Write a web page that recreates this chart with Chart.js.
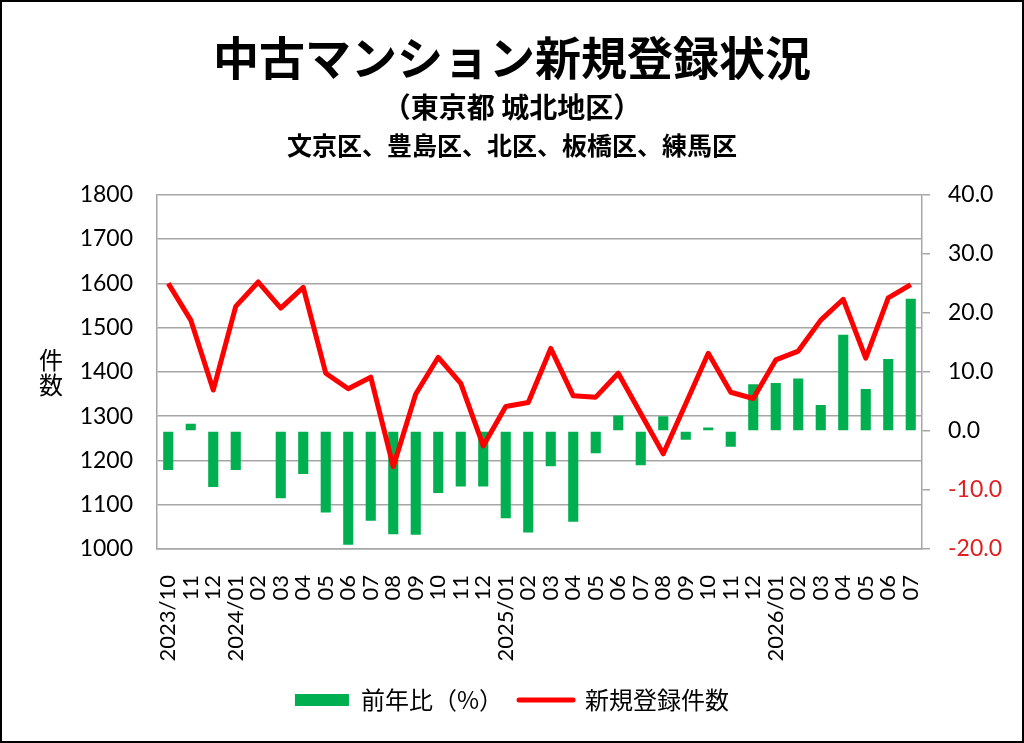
<!DOCTYPE html>
<html>
<head>
<meta charset="utf-8">
<script src="https://cdn.jsdelivr.net/npm/chart.js@4"></script>
<style>
  body { margin: 0; background: #fff; }
  #wrap { position: relative; width: 1024px; height: 743px; }
  #frame { position: absolute; left: 0; top: 0; width: 1024px; height: 743px; box-sizing: border-box; border: 2px solid #000; pointer-events: none; }
</style>
</head>
<body>
<div id="wrap">
  <canvas id="grafico"></canvas>
  <div id="frame"></div>
</div>
<script>
const labels = [
  '2023/10', '11', '12',
  '2024/01', '02', '03', '04', '05', '06', '07', '08', '09', '10', '11', '12',
  '2025/01', '02', '03', '04', '05', '06', '07', '08', '09', '10', '11', '12',
  '2026/01', '02', '03', '04', '05', '06', '07'
];

// 新規登録件数 (左軸)
const kensu = [
  1600, 1517, 1359,
  1548, 1603, 1544, 1591, 1397, 1362, 1388, 1186, 1350, 1433, 1374, 1233,
  1322, 1331, 1453, 1346, 1343, 1397, 1306, 1215, 1328, 1442, 1354, 1340,
  1427, 1447, 1517, 1564, 1431, 1567, 1597
];

// 前年比 % (右軸)
const zennenhi = [
  -6.6, 1.2, -9.5,
  -6.6, 0, -11.4, -7.3, -13.8, -19.3, -15.2, -17.5, -17.6, -10.5, -9.4, -9.4,
  -14.8, -17.2, -6.0, -15.4, -3.8, 2.6, -5.8, 2.5, -1.5, 0.6, -2.7, 7.9,
  8.1, 8.9, 4.4, 16.3, 7.1, 12.2, 22.4
];

const subtitulo2 = '文京区、豊島区、北区、板橋区、練馬区';

const jpFont = "'Noto Sans CJK JP', sans-serif";
const numFont = "Lato, 'Noto Sans CJK JP', sans-serif";
const gris = '#a6a6a6';

// 縦書きの「件数」と3行目の見出し
const textosExtra = {
  id: 'textosExtra',
  afterDraw(chart) {
    const { ctx, chartArea } = chart;
    const cy = (chartArea.top + chartArea.bottom) / 2;
    ctx.save();
    ctx.fillStyle = '#000';
    ctx.textAlign = 'center';
    ctx.textBaseline = 'middle';
    ctx.font = '24px ' + jpFont;
    ctx.fillText('件', 51, cy - 12);
    ctx.fillText('数', 51, cy + 13);
    ctx.font = 'bold 25px ' + jpFont;
    ctx.fillText(subtitulo2, chart.width / 2, 145);
    ctx.restore();
  }
};

const chart = new Chart(document.getElementById('grafico'), {
  data: {
    labels: labels,
    datasets: [
      {
        type: 'bar',
        label: '前年比（%）',
        data: zennenhi,
        yAxisID: 'y1',
        backgroundColor: '#00b050',
        borderWidth: 0,
        barPercentage: 0.9,
        categoryPercentage: 0.5,
        order: 1
      },
      {
        type: 'line',
        label: '新規登録件数',
        data: kensu,
        yAxisID: 'y',
        borderColor: '#ff0000',
        backgroundColor: '#ff0000',
        borderWidth: 5,
        pointRadius: 0,
        tension: 0,
        borderJoinStyle: 'round',
        fill: false,
        order: 0
      }
    ]
  },
  options: {
    responsive: true,
    maintainAspectRatio: false,
    animation: false,
    layout: { padding: { left: 0, right: 0, top: 0, bottom: 21 } },
    plugins: {
      title: {
        display: true,
        text: '中古マンション新規登録状況',
        color: '#000',
        font: { family: jpFont, size: 46, weight: 'bold', lineHeight: 1.2 },
        padding: { top: 30, bottom: 0 }
      },
      subtitle: {
        display: true,
        text: '（東京都 城北地区）',
        color: '#000',
        font: { family: jpFont, size: 28, weight: 'bold', lineHeight: 1.2 },
        padding: { top: 5, bottom: 71 }
      },
      legend: {
        position: 'bottom',
        labels: {
          color: '#000',
          font: { family: jpFont, size: 24 },
          usePointStyle: true,
          pointStyleWidth: 54,
          boxHeight: 12,
          padding: 16,
          generateLabels(chart) {
            const items = Chart.defaults.plugins.legend.labels.generateLabels(chart);
            items.forEach(it => {
              if (it.datasetIndex === 0) {
                it.pointStyle = 'rect';
                it.lineWidth = 0;
                it.fillStyle = '#00b050';
              } else {
                it.pointStyle = 'line';
                it.lineWidth = 5;
                it.strokeStyle = '#ff0000';
                it.lineCap = 'round';
              }
            });
            return items.sort((a, b) => a.datasetIndex - b.datasetIndex);
          }
        }
      },
      tooltip: { enabled: false }
    },
    scales: {
      x: {
        offset: true,
        grid: { display: false },
        border: { display: true, color: gris, width: 1.5 },
        ticks: {
          color: '#000',
          font: { family: numFont, size: 22 },
          autoSkip: false,
          maxRotation: 90,
          minRotation: 90,
          padding: 18
        },
        afterFit(scale) { scale.height = 123; }
      },
      y: {
        position: 'left',
        min: 1000,
        max: 1800,
        ticks: {
          stepSize: 100,
          color: '#000',
          font: { family: numFont, size: 23 },
          padding: 24,
          callback: v => String(v)
        },
        grid: { color: gris, lineWidth: 1.5, drawTicks: false },
        border: { display: true, color: gris, width: 1.5 },
        afterFit(scale) { scale.width = 157; }
      },
      y1: {
        position: 'right',
        min: -20,
        max: 40,
        ticks: {
          stepSize: 10,
          font: { family: numFont, size: 23 },
          color: ctx => (ctx.tick && ctx.tick.value < 0 ? '#e02020' : '#000'),
          callback: v => v.toFixed(1),
          padding: 18
        },
        grid: { drawOnChartArea: false, drawTicks: true, tickLength: 8, color: gris, lineWidth: 1.5 },
        border: { display: true, color: gris, width: 1.5 },
        afterFit(scale) { scale.width = 102; }
      }
    }
  },
  plugins: [textosExtra]
});
</script>
</body>
</html>
